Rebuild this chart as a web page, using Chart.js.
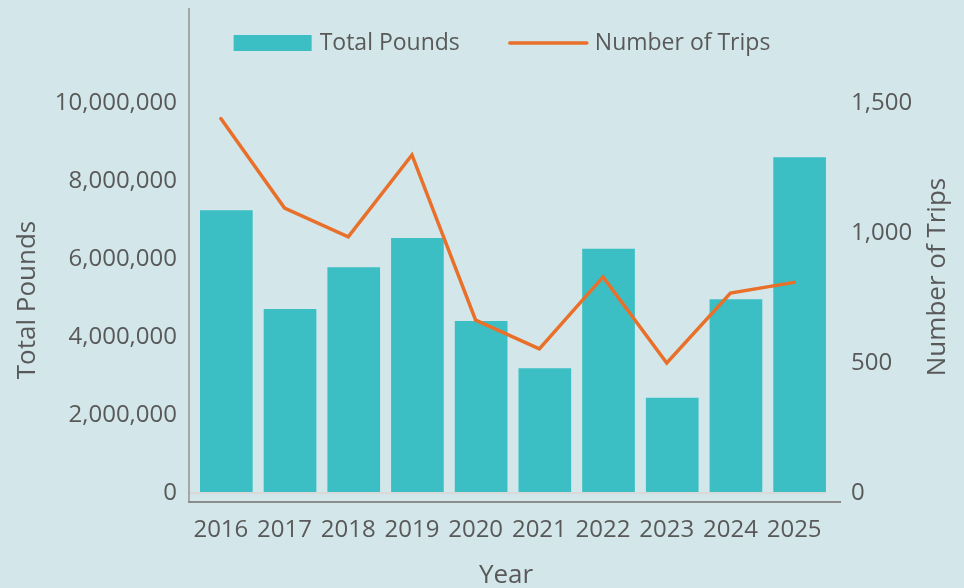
<!DOCTYPE html>
<html>
<head>
<meta charset="utf-8">
<title>Total Pounds and Number of Trips</title>
<script src="https://cdn.jsdelivr.net/npm/chart.js"></script>
<style>
  html, body { margin: 0; padding: 0; background: #d3e7ea; }
  #wrap { width: 964px; height: 588px; }
</style>
</head>
<body>
<div id="wrap"><canvas id="chart" width="964" height="588"></canvas></div>
<script>
// Data
const years = ['2016', '2017', '2018', '2019', '2020', '2021', '2022', '2023', '2024', '2025'];
const totalPounds = [7250000, 4720000, 5790000, 6540000, 4410000, 3200000, 6260000, 2440000, 4970000, 8610000];
const numberOfTrips = [1440, 1096, 985, 1300, 665, 554, 831, 500, 769, 810];

// Tick values shown on the two value axes
const poundTicks = [0, 2000000, 4000000, 6000000, 8000000, 10000000];
const tripTicks = [0, 500, 1000, 1500];

// Axis limits (the plot frame runs a little below zero and well above the top tick)
const poundRange = [-230769, 12410256];
const tripRange = [-34.6, 1861.5];

const BAR_COLOR = '#3bbfc4';
const LINE_COLOR = '#e8702a';
const TEXT_COLOR = '#595959';
const FONT = "'Open Sans', sans-serif";

// bars sit slightly right of the category centres (as in the original workbook)
const barShift = 0.086;

const fixTicks = values => scale => { scale.ticks = values.map(v => ({ value: v })); };

// width/height fixed, and no extra room reserved for the end labels
const fitTo = (prop, size) => scale => {
  scale[prop] = size;
  scale.paddingTop = 0;
  scale.paddingBottom = 0;
};

// bottom axis line, runs a bit past the last category
const frameLine = {
  id: 'frameLine',
  beforeDatasetsDraw(chart) {
    const { ctx, chartArea: a } = chart;
    ctx.save();
    ctx.strokeStyle = '#8c8c8c';
    ctx.lineWidth = 2;
    ctx.beginPath();
    ctx.moveTo(a.left - 1, a.bottom);
    ctx.lineTo(a.right + 15, a.bottom);
    ctx.stroke();
    ctx.restore();
  }
};

// legend drawn inside the plot area, like the original
const insideLegend = {
  id: 'insideLegend',
  afterDraw(chart) {
    const { ctx, chartArea: a } = chart;
    const sets = chart.data.datasets;
    const sample = 78, gap = 8, spacing = 49;
    ctx.save();
    ctx.font = '23px ' + FONT;
    const widths = sets.map(d => sample + gap + ctx.measureText(d.label).width);
    const total = widths.reduce((s, w) => s + w, 0) + spacing * (sets.length - 1);
    let x = (a.left + a.right) / 2 - 5.5 - total / 2;
    const y = a.top + 34;
    sets.forEach((d, i) => {
      if (d.type === 'line') {
        ctx.strokeStyle = d.borderColor;
        ctx.lineWidth = d.borderWidth;
        ctx.lineCap = 'round';
        ctx.beginPath();
        ctx.moveTo(x + 1, y);
        ctx.lineTo(x + sample, y);
        ctx.stroke();
      } else {
        ctx.fillStyle = d.backgroundColor;
        ctx.fillRect(x, y - 8, sample, 16);
      }
      ctx.fillStyle = TEXT_COLOR;
      ctx.textAlign = 'left';
      ctx.textBaseline = 'middle';
      ctx.fillText(d.label, x + sample + gap, y);
      x += widths[i] + spacing;
    });
    ctx.restore();
  }
};

// axis titles (right one reads bottom-to-top, which Chart.js won't do natively)
const axisTitles = {
  id: 'axisTitles',
  afterDraw(chart) {
    const { ctx } = chart;
    ctx.save();
    ctx.fillStyle = TEXT_COLOR;
    ctx.font = '26px ' + FONT;
    ctx.textAlign = 'center';
    ctx.textBaseline = 'alphabetic';

    ctx.save();
    ctx.translate(35, 300);
    ctx.rotate(-Math.PI / 2);
    ctx.fillText('Total Pounds', 0, 0);
    ctx.restore();

    ctx.save();
    ctx.translate(945, 277);
    ctx.rotate(-Math.PI / 2);
    ctx.fillText('Number of Trips', 0, 0);
    ctx.restore();

    ctx.fillText('Year', 506, 583);
    ctx.restore();
  }
};

const tickFont = { family: FONT, size: 24 };

new Chart(document.getElementById('chart'), {
  type: 'bar',
  data: {
    labels: years,
    datasets: [
      {
        type: 'bar',
        label: 'Total Pounds',
        data: totalPounds,
        backgroundColor: BAR_COLOR,
        xAxisID: 'xBars',
        yAxisID: 'y',
        grouped: false,
        categoryPercentage: 1,
        barPercentage: 0.827,
        order: 1
      },
      {
        type: 'line',
        label: 'Number of Trips',
        data: numberOfTrips,
        borderColor: LINE_COLOR,
        borderWidth: 3.5,
        borderCapStyle: 'round',
        pointRadius: 0,
        tension: 0,
        xAxisID: 'x',
        yAxisID: 'y1',
        order: 0
      }
    ]
  },
  options: {
    responsive: false,
    animation: false,
    layout: { padding: { top: 9, left: 0, right: 0, bottom: 0 } },
    plugins: {
      legend: { display: false },
      tooltip: { enabled: false }
    },
    scales: {
      x: {
        type: 'category',
        position: 'bottom',
        offset: true,
        grid: { display: false, drawTicks: false, offset: true },
        border: { display: false },
        ticks: { color: TEXT_COLOR, font: tickFont, padding: 14, maxRotation: 0, autoSkip: false },
        afterFit(s) { s.height = 86; }
      },
      xBars: {
        type: 'linear',
        position: 'bottom',
        display: false,
        offset: false,
        grid: { offset: false },
        min: +years[0] - 0.5 - barShift,
        max: +years[years.length - 1] + 0.5 - barShift,
        afterBuildTicks: fixTicks(years.map(Number))
      },
      y: {
        type: 'linear',
        position: 'left',
        min: poundRange[0],
        max: poundRange[1],
        afterBuildTicks: fixTicks(poundTicks),
        ticks: {
          color: TEXT_COLOR,
          font: tickFont,
          padding: 12,
          callback: v => v.toLocaleString('en-US')
        },
        grid: {
          drawTicks: false,
          lineWidth: 2,
          color: c => (c.tick && c.tick.value === 0 ? '#d9d9d9' : 'rgba(0,0,0,0)')
        },
        border: { display: true, color: '#a6a6a6', width: 2 },
        afterFit: fitTo('width', 189)
      },
      y1: {
        type: 'linear',
        position: 'right',
        min: tripRange[0],
        max: tripRange[1],
        afterBuildTicks: fixTicks(tripTicks),
        ticks: {
          color: TEXT_COLOR,
          font: tickFont,
          padding: 25,
          callback: v => v.toLocaleString('en-US')
        },
        grid: { display: false, drawTicks: false },
        border: { display: false },
        afterFit: fitTo('width', 138)
      }
    }
  },
  plugins: [frameLine, insideLegend, axisTitles]
});
</script>
</body>
</html>
